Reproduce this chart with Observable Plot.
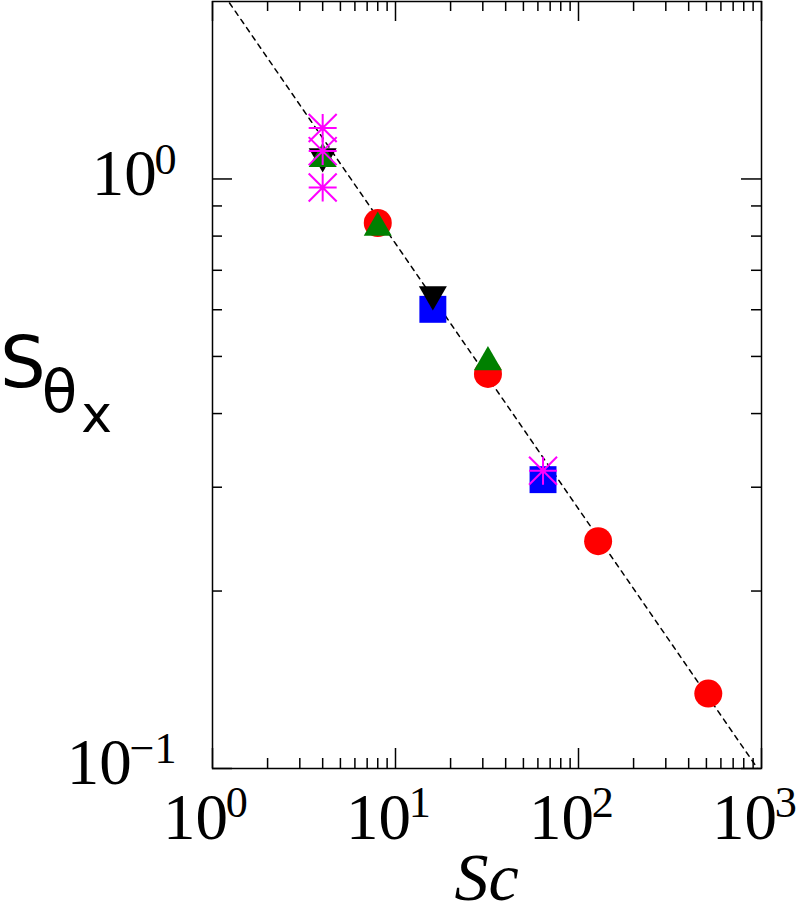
<!DOCTYPE html>
<html><head><meta charset="utf-8">
<script src="https://cdn.jsdelivr.net/npm/d3@7"></script>
<script src="https://cdn.jsdelivr.net/npm/@observablehq/plot@0.6"></script>
<style>body{margin:0;background:#fff} svg{display:block}</style>
</head><body><div id="chart"></div>
<script>
// Data (Sc, S_theta_x)
const scRed = [8, 32, 128, 512];
const sRed = [0.842, 0.467, 0.243, 0.134];
const scBlue = [16, 64];
const sBlue = [0.601, 0.309];
const scBlack = [4, 16];
const sBlack = [1.092, 0.637];
const scGreen = [4, 8, 32];
const sGreen = [1.081, 0.827, 0.489];
const scMagenta = [4, 4, 4, 64];
const sMagenta = [1.22, 1.115, 0.967, 0.32];
// dashed reference line endpoints
const fitSc = [1, 1000];
const fitS = [2.19, 0.0978];
// ticks
const xMajor = [1, 10, 100, 1000];
const xMinor = [2,3,4,5,6,7,8,9,20,30,40,50,60,70,80,90,200,300,400,500,600,700,800,900];
const yMajor = [0.1, 1];
const yMinor = [0.2,0.3,0.4,0.5,0.6,0.7,0.8,0.9];
const xTickLabels = ["10^0", "10^1", "10^2", "10^3"];
const yTickLabels = ["10^-1", "10^0"];

const W = 800, H = 915, mL = 212, mR = 39, mT = 1, mB = 147;
const FW = W - mL - mR, FH = H - mT - mB;

const pts = (xs, ys) => xs.map((x, i) => ({x, y: ys[i]}));

const triDown = {draw(ctx, size) {
  const y = -Math.sqrt(size / (Math.sqrt(3) * 3));
  ctx.moveTo(0, -y * 2);
  ctx.lineTo(-Math.sqrt(3) * y, y);
  ctx.lineTo(Math.sqrt(3) * y, y);
  ctx.closePath();
}};
const asterisk = {draw(ctx, size) {
  const r = Math.sqrt(size / Math.PI);
  ctx.moveTo(-r, 0); ctx.lineTo(r, 0);
  ctx.moveTo(0, -r); ctx.lineTo(0, r);
  ctx.moveTo(-r, -r); ctx.lineTo(r, r);
  ctx.moveTo(-r, r); ctx.lineTo(r, -r);
}};

const tickStyle = {stroke: "black", strokeWidth: 1.5};
const plot = Plot.plot({
  width: W, height: H,
  marginLeft: mL, marginRight: mR, marginTop: mT, marginBottom: mB,
  x: {type: "log", domain: [1, 1000], axis: null},
  y: {type: "log", domain: [0.1, 2], axis: null},
  style: {background: "white", fontFamily: "'Liberation Serif', serif", color: "black"},
  marks: [
    Plot.line(pts(fitSc, fitS), {x: "x", y: "y", stroke: "black", strokeWidth: 1.5, strokeDasharray: "5,5", clip: true}),
    Plot.dot(pts(scRed, sRed), {x: "x", y: "y", r: 14, fill: "#ff0000", symbol: "circle"}),
    Plot.dot(pts(scBlue, sBlue), {x: "x", y: "y", r: 15.2, fill: "#0000ff", symbol: "square"}),
    Plot.dot(pts(scBlack, sBlack), {x: "x", y: "y", r: 10.4, fill: "black", symbol: triDown}),
    Plot.dot(pts(scGreen, sGreen), {x: "x", y: "y", r: 10.4, fill: "#008000", symbol: "triangle"}),
    Plot.dot(pts(scMagenta, sMagenta), {x: "x", y: "y", r: 14, stroke: "#ff00ff", strokeWidth: 2, fill: "none", symbol: asterisk}),
    Plot.dot(pts(scMagenta, sMagenta), {x: "x", y: "y", r: 2.5, fill: "#ff00ff"}),
    // inward ticks, bottom and top
    Plot.tickX(xMajor, {x: d => d, insetTop: FH - 20, ...tickStyle}),
    Plot.tickX(xMajor, {x: d => d, insetBottom: FH - 20, ...tickStyle}),
    Plot.tickX(xMinor, {x: d => d, insetTop: FH - 10, ...tickStyle}),
    Plot.tickX(xMinor, {x: d => d, insetBottom: FH - 10, ...tickStyle}),
    // inward ticks, left and right
    Plot.tickY(yMajor, {y: d => d, insetRight: FW - 20, ...tickStyle}),
    Plot.tickY(yMajor, {y: d => d, insetLeft: FW - 20, ...tickStyle}),
    Plot.tickY(yMinor, {y: d => d, insetRight: FW - 10, ...tickStyle}),
    Plot.tickY(yMinor, {y: d => d, insetLeft: FW - 10, ...tickStyle}),
    Plot.axisX({ticks: xMajor, anchor: "bottom", tickSize: 0, tickPadding: 24, fontSize: 65, dx: -7,
      tickFormat: (d) => xTickLabels[xMajor.indexOf(d)], label: null}),
    Plot.axisY({ticks: yMajor, anchor: "left", tickSize: 0, tickPadding: 36, fontSize: 65, dy: -5,
      tickFormat: (d) => yTickLabels[yMajor.indexOf(d)], label: null}),
    Plot.frame({stroke: "black", strokeWidth: 1.5})
  ]
});
document.getElementById("chart").appendChild(plot);

// turn "10^n" into superscripts
d3.select(plot).selectAll('g[aria-label$="tick label"] text').each(function() {
  const t = this.textContent;
  if (!t.includes("^")) return;
  const [base, exp] = t.split("^");
  const el = d3.select(this);
  el.text(null);
  el.append("tspan").text(base);
  el.append("tspan").attr("font-size", "0.68em").attr("dy", "-0.48em").attr("dx", "-0.05em").text(exp.replace("-", "\u2212"));
});

const svg = d3.select(plot);
// x axis label
svg.append("text").attr("x", mL + FW / 2).attr("y", 900).attr("text-anchor", "middle")
  .attr("font-family", "'Liberation Serif', serif").attr("font-style", "italic").attr("font-size", 68)
  .attr("fill", "black").text("Sc");
// y axis label S_{θ_x}
const yl = svg.append("text").attr("x", 0).attr("y", 387).attr("text-anchor", "start")
  .attr("font-family", "'DejaVu Sans', sans-serif").attr("fill", "black");
yl.append("tspan").attr("font-size", 72).text("S");
yl.append("tspan").attr("font-size", 58).attr("dx", -4).attr("dy", 25).text("θ");
yl.append("tspan").attr("font-size", 52).attr("dx", 4).attr("dy", 20).text("x");
</script>
</body></html>
